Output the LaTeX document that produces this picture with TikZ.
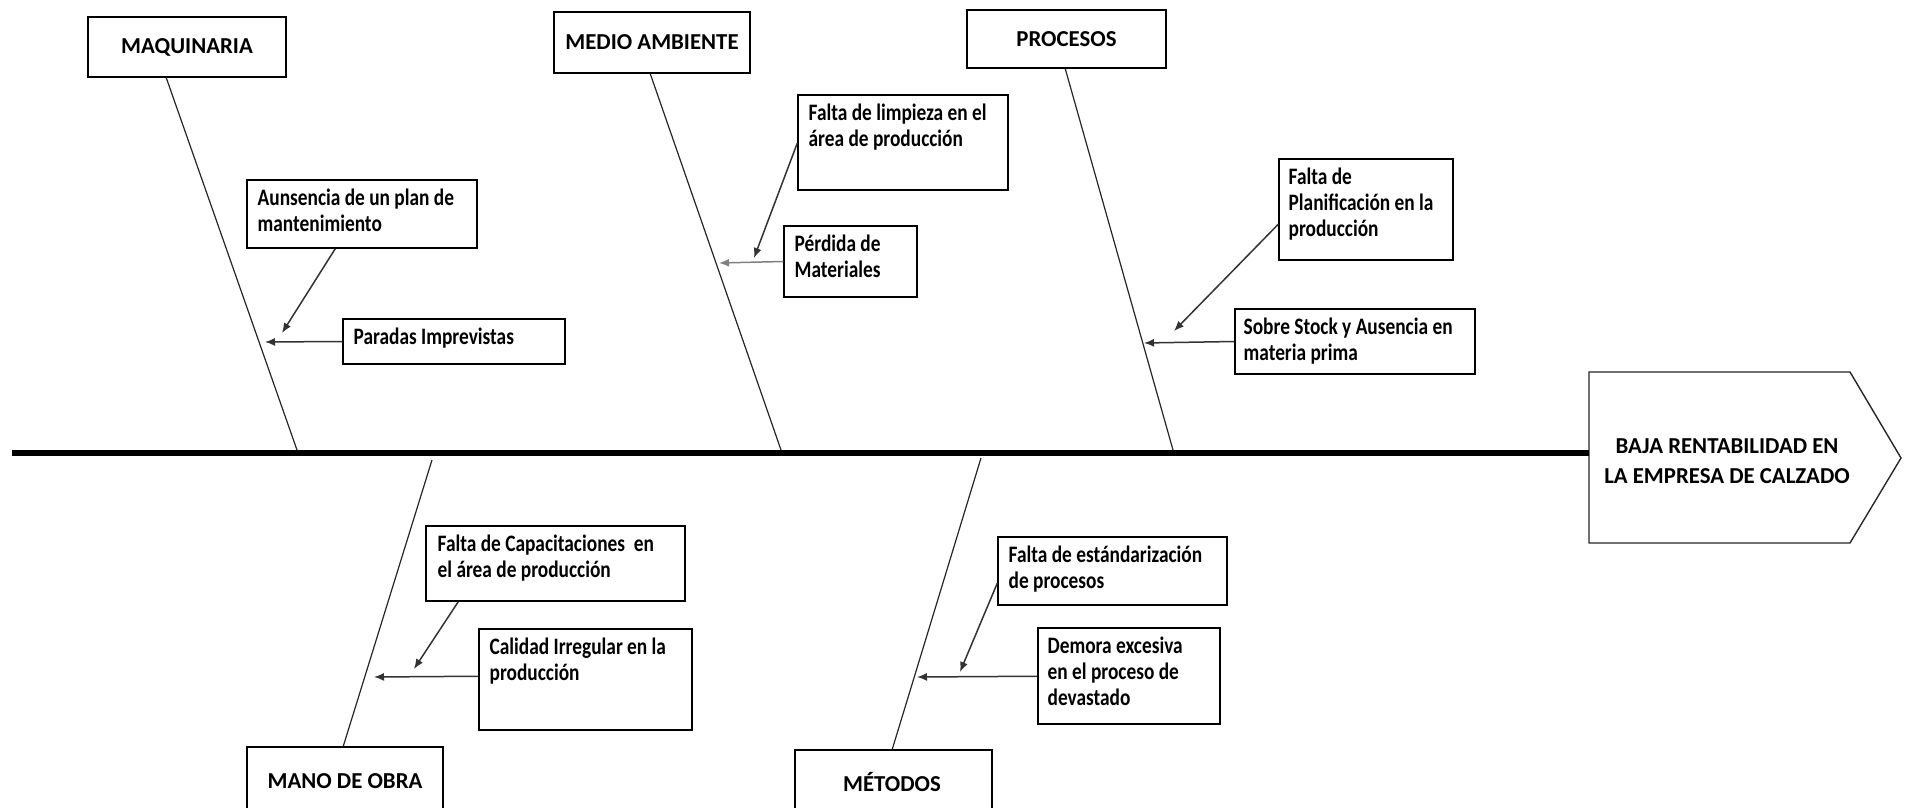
\documentclass[tikz,border=0pt]{standalone}
\usepackage{fontspec}
\setmainfont{Carlito}
\newfontfamily\condfont[FakeStretch=0.82]{Carlito}
\usetikzlibrary{arrows.meta,calc,fit}
\begin{document}
\begin{tikzpicture}[x=0.5pt,y=-0.5pt,
  box/.style={draw=black, line width=0.75pt, inner sep=0pt},
  cat/.style={font=\fontsize{11.4}{15}\selectfont\bfseries, inner sep=0pt},
  txt/.style={font=\condfont\fontsize{11.8}{13}\selectfont\bfseries, align=left, inner sep=0pt, anchor=north west},
  bone/.style={line width=0.6pt, black!85},
  arr/.style={line width=0.75pt, black!80, -{Latex[length=5pt,width=4pt]}},
  spine/.style={line width=3pt, black}]
\clip (0,0) rectangle (1908,808);
\fill[white] (0,0) rectangle (1908,808);

% ---------- MAQUINARIA ----------
\coordinate (c1a) at (88,17); \coordinate (c1b) at (286,77);
\node[box, fit=(c1a)(c1b)] (maq) {};
\node[cat] (maqt) at (maq.center) {MAQUINARIA};
\coordinate (maqs) at (297,450);
\draw[bone] ($(maq.south west)+(79,0)$) -- (maqs);

\coordinate (c2a) at (247,180); \coordinate (c2b) at (477,248);
\node[box, fit=(c2a)(c2b)] (aus) {};
\node[txt] (aust) at ($(aus.north west)+(11,9)$) {Aunsencia de un plan de\\mantenimiento};
\coordinate (ausp) at (282,333);
\draw[arr] ($(aus.south west)+(89,0)$) -- (ausp);

\coordinate (c3a) at (343,319); \coordinate (c3b) at (565,364);
\node[box, fit=(c3a)(c3b)] (par) {};
\node[txt] (part) at ($(par.north west)+(11,9)$) {Paradas Imprevistas};
\coordinate (parp) at (265,342);
\draw[arr] (par.west) -- (parp);

% ---------- MEDIO AMBIENTE ----------
\coordinate (c4a) at (554,12); \coordinate (c4b) at (750,73);
\node[box, fit=(c4a)(c4b)] (med) {};
\node[cat] (medt) at (med.center) {MEDIO AMBIENTE};
\coordinate (meds) at (781,450);
\draw[bone] ($(med.south west)+(97,0)$) -- (meds);

\coordinate (c5a) at (798,95); \coordinate (c5b) at (1008,190);
\node[box, fit=(c5a)(c5b)] (lim) {};
\node[txt] (limt) at ($(lim.north west)+(11,9)$) {Falta de limpieza en el\\área de producción};
\coordinate (limp) at (754,258);
\draw[arr] ($(lim.north west)+(0,49)$) -- (limp);

\coordinate (c6a) at (784,226); \coordinate (c6b) at (917,297);
\node[box, fit=(c6a)(c6b)] (per) {};
\node[txt] (pert) at ($(per.north west)+(11,9)$) {Pérdida de\\Materiales};
\coordinate (perp) at (719,263);
\draw[arr, gray] (per.west) -- (perp);

% ---------- PROCESOS ----------
\coordinate (c7a) at (967,10); \coordinate (c7b) at (1166,68);
\node[box, fit=(c7a)(c7b)] (pro) {};
\node[cat] (prot) at (pro.center) {PROCESOS};
\coordinate (pros) at (1173,450);
\draw[bone] ($(pro.south west)+(99,0)$) -- (pros);

\coordinate (c8a) at (1279,159); \coordinate (c8b) at (1453,260);
\node[box, fit=(c8a)(c8b)] (pla) {};
\node[txt] (plat) at ($(pla.north west)+(10,9)$) {Falta de\\Planificación en la\\producción};
\coordinate (plap) at (1174,331);
\draw[arr] ($(pla.north west)+(0,66)$) -- (plap);

\coordinate (c9a) at (1235,309); \coordinate (c9b) at (1475,374);
\node[box, fit=(c9a)(c9b)] (sob) {};
\node[txt] (sobt) at ($(sob.north west)+(9,9)$) {Sobre Stock y Ausencia en\\materia prima};
\coordinate (sobp) at (1144,343);
\draw[arr] (sob.west) -- (sobp);

% ---------- spine and head ----------
\coordinate (tail) at (12,453);
\coordinate (hw) at (1589,453);
\draw[black!85, line width=0.7pt] (1589,372) -- (1850,372) -- (1901,458) -- (1850,543) -- (1589,543) -- cycle;
\draw[spine] (tail) -- (hw);
\node[cat, align=center] (head) at (1727,461) {BAJA RENTABILIDAD EN\\LA EMPRESA DE CALZADO};

% ---------- MANO DE OBRA ----------
\coordinate (c10a) at (247,747); \coordinate (c10b) at (443,840);
\node[box, fit=(c10a)(c10b)] (man) {};
\node[cat] (mant) at (345,781) {MANO DE OBRA};
\coordinate (mans) at (432,460);
\draw[bone] (mans) -- ($(man.north west)+(97,0)$);

\coordinate (c11a) at (426,526); \coordinate (c11b) at (685,601);
\node[box, fit=(c11a)(c11b)] (cap) {};
\node[txt] (capt) at ($(cap.north west)+(12,9)$) {Falta de Capacitaciones~ en\\el área de producción};
\coordinate (capp) at (414,669);
\draw[arr] ($(cap.south west)+(33,0)$) -- (capp);

\coordinate (c12a) at (479,629); \coordinate (c12b) at (692,730);
\node[box, fit=(c12a)(c12b)] (cal) {};
\node[txt] (calt) at ($(cal.north west)+(11,9)$) {Calidad Irregular en la\\producción};
\coordinate (calp) at (374,677);
\draw[arr] ($(cal.north west)+(0,48)$) -- (calp);

% ---------- MÉTODOS ----------
\coordinate (c13a) at (795,750); \coordinate (c13b) at (992,840);
\node[box, fit=(c13a)(c13b)] (met) {};
\node[cat] (mett) at (892,782) {MÉTODOS};
\coordinate (mets) at (981,458);
\draw[bone] (mets) -- ($(met.north west)+(98,0)$);

\coordinate (c14a) at (998,537); \coordinate (c14b) at (1227,605);
\node[box, fit=(c14a)(c14b)] (est) {};
\node[txt] (estt) at ($(est.north west)+(11,9)$) {Falta de estándarización\\de procesos};
\coordinate (estp) at (960,672);
\draw[arr] ($(est.north west)+(0,47)$) -- (estp);

\coordinate (c15a) at (1038,628); \coordinate (c15b) at (1220,724);
\node[box, fit=(c15a)(c15b)] (dem) {};
\node[txt] (demt) at ($(dem.north west)+(10,9)$) {Demora excesiva\\en el proceso de\\devastado};
\coordinate (demp) at (917,677);
\draw[arr] ($(dem.north west)+(0,49)$) -- (demp);
\end{tikzpicture}
\end{document}
